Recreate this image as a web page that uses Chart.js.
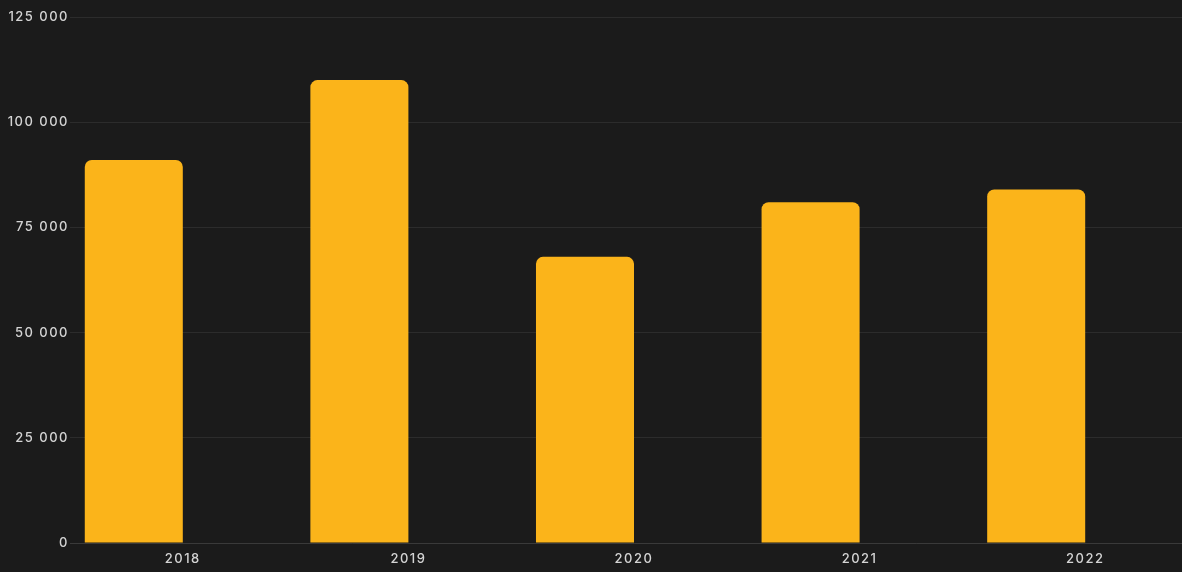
<!DOCTYPE html>
<html>
<head>
<meta charset="utf-8">
<script src="https://cdn.jsdelivr.net/npm/chart.js@4/dist/chart.umd.min.js"></script>
<style>
    html, body { margin: 0; padding: 0; background: #1b1b1b; overflow: hidden; }
    #wrap { position: relative; width: 1200px; height: 572px; }
</style>
</head>
<body>
<div id="wrap"><canvas id="salesChart"></canvas></div>
<script>
const years = ['2018', '2019', '2020', '2021', '2022'];
const values = [91000, 110000, 68000, 81000, 84000];
// second series sits next to the first one but has no visible values in the picture
const otherValues = [null, null, null, null, null];
const yTicks = [0, 25000, 50000, 75000, 100000, 125000];

const fmt = (v) => String(v).replace(/\B(?=(\d{3})+(?!\d))/g, ' ');

// wider letter spacing for the axis labels
const spacing = {
    id: 'spacing',
    beforeDraw: (chart) => { chart.ctx.letterSpacing = '1.5px'; }
};

const ctx = document.getElementById('salesChart').getContext('2d');
const salesChart = new Chart(ctx, {
    type: 'bar',
    data: {
        labels: years,
        datasets: [{
            label: 'Value',
            data: values,
            backgroundColor: '#fbb41a',
            borderRadius: 7,
            borderSkipped: 'start',
            borderWidth: 0,
            categoryPercentage: 0.869,
            barPercentage: 1
        }, {
            label: 'Other',
            data: otherValues,
            backgroundColor: '#888888',
            categoryPercentage: 0.869,
            barPercentage: 1
        }]
    },
    plugins: [spacing],
    options: {
        responsive: true,
        maintainAspectRatio: false,
        animation: false,
        layout: { padding: { top: 17, right: 2, left: 0, bottom: 0 } },
        plugins: {
            legend: { display: false },
            tooltip: { enabled: false }
        },
        scales: {
            x: {
                grid: { display: false, drawTicks: false },
                border: { color: '#3a3a3a', width: 1 },
                ticks: {
                    color: '#d4d4d4',
                    padding: 8,
                    font: { family: 'Inter', size: 13, weight: 500 }
                },
                afterFit: (scale) => { scale.height = 29; }
            },
            y: {
                min: yTicks[0],
                max: yTicks[yTicks.length - 1],
                afterBuildTicks: (scale) => { scale.ticks = yTicks.map(v => ({ value: v })); },
                grid: { color: '#2c2c2c', drawTicks: false },
                border: { display: false },
                ticks: {
                    color: '#d4d4d4',
                    padding: 1,
                    font: { family: 'Inter', size: 13, weight: 500 },
                    callback: (v) => fmt(v)
                },
                afterFit: (scale) => { scale.width = 70; }
            }
        }
    }
});
</script>
</body>
</html>
